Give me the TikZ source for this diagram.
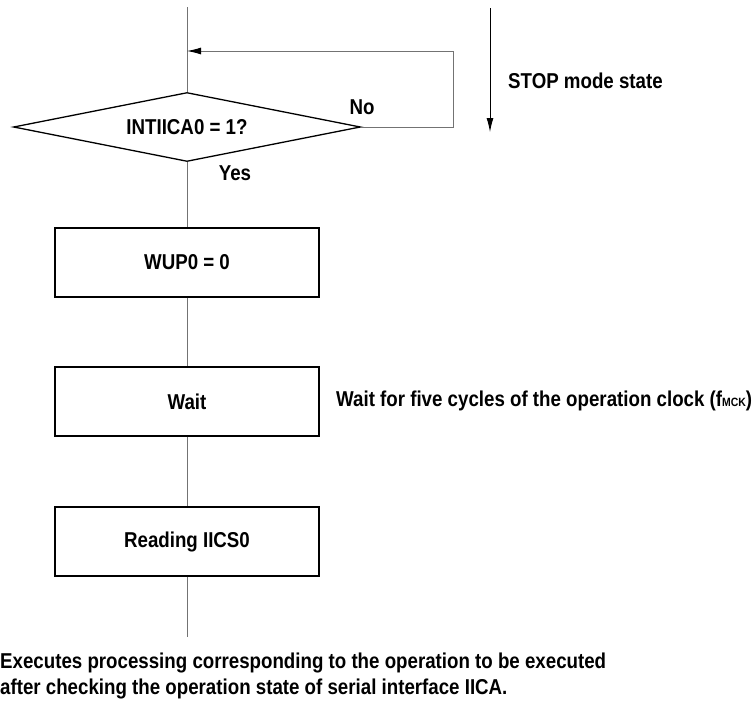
\documentclass[tikz,border=0pt]{standalone}
\usepackage{fontspec}
\setmainfont{Liberation Sans}[FakeStretch=0.87]
\usetikzlibrary{shapes.geometric,arrows.meta}
\begin{document}
\begin{tikzpicture}[x=1pt,y=-1pt,
  every node/.style={font=\bfseries\fontsize{21.5}{26}\selectfont},
  box/.style={draw,line width=1.3pt,minimum width=264pt,minimum height=69pt,inner sep=0pt},
  decision/.style={draw,line width=1.3pt,diamond,aspect=5,minimum width=347pt,minimum height=69pt,inner sep=0pt},
  conn/.style={draw=black!55,line width=0.9pt},
  arr/.style={-{Latex[length=14pt,width=7pt,color=black,fill=black]}},
  lbl/.style={inner sep=0pt}]
\useasboundingbox (0,0) rectangle (752,704);
% nodes
\node[decision] (d) at (187,127) {INTIICA0 = 1?};
\node[box] (b1) at (187,262.5) {WUP0 = 0};
\node[box] (b2) at (187,401.5) {Wait};
\node[box] (b3) at (187,541.5) {Reading IICS0};
\coordinate (top) at (187,7);
\coordinate (join) at (187,51);
\coordinate (loopr) at (453,127);
\coordinate (loopt) at (453,51);
\coordinate (bot) at (187,637);
\coordinate (s1) at (490,8);
\coordinate (s2) at (490,132);
% connectors
\draw[conn] (top) -- (d.north);
\draw[conn] (d.south) -- (b1.north);
\draw[conn] (b1.south) -- (b2.north);
\draw[conn] (b2.south) -- (b3.north);
\draw[conn] (b3.south) -- (bot);
\draw[conn,arr] (d.east) -- (loopr) -- (loopt) -- (join);
\draw[line width=0.9pt,arr] (s1) -- (s2);
% labels
\node[lbl] (no) at (362,107) {No};
\node[lbl] (yes) at (235,173) {Yes};
\node[lbl,anchor=west] (stop) at (508,81) {STOP mode state};
\node[lbl,anchor=west] (waitnote) at (336,401) {Wait for five cycles of the operation clock (f{\fontsize{12}{13}\selectfont MCK})};
\node[lbl,anchor=north west,align=left] (note) at (0,653) {Executes processing corresponding to the operation to be executed\\after checking the operation state of serial interface IICA.};
\end{tikzpicture}
\end{document}
